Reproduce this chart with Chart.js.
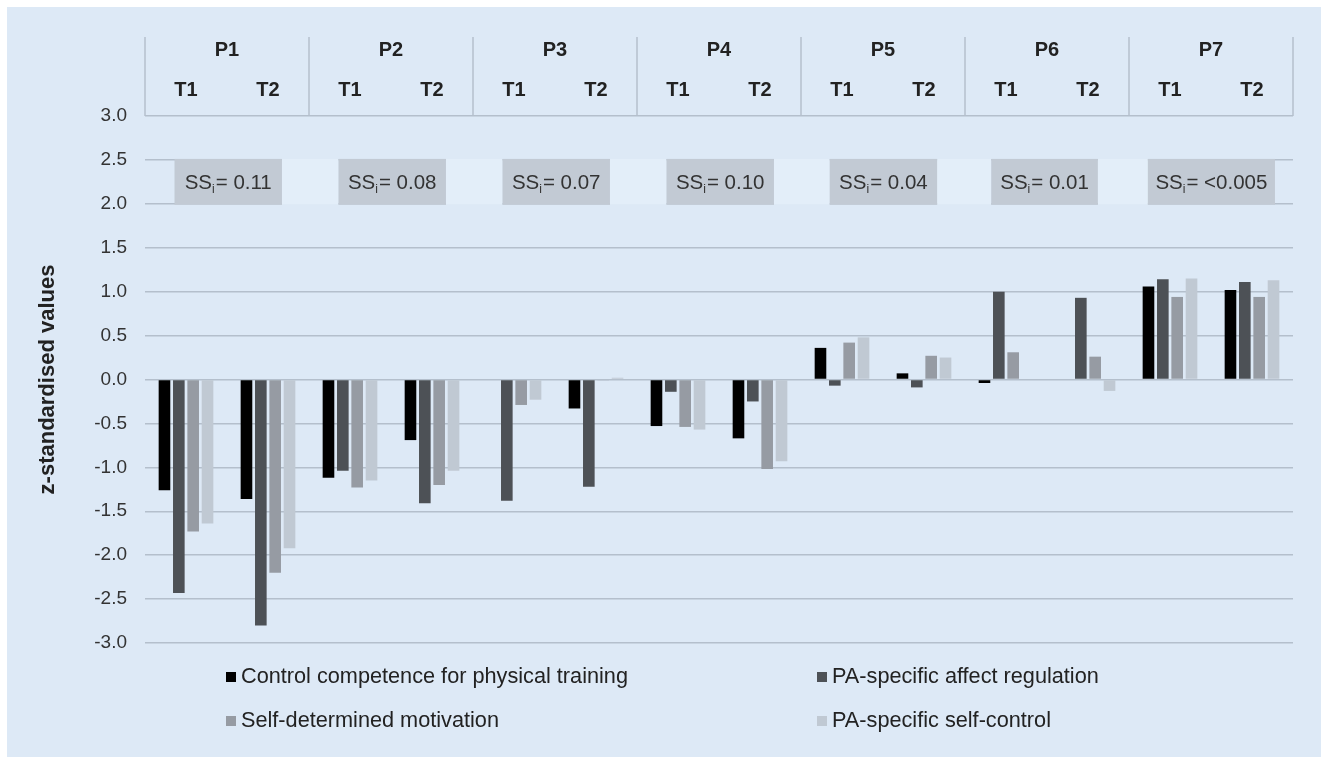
<!DOCTYPE html>
<html>
<head>
<meta charset="utf-8">
<script src="https://cdn.jsdelivr.net/npm/chart.js@4"></script>
<style>
  html, body { margin: 0; padding: 0; background: #fff; }
  body { width: 1321px; height: 757px; position: relative; overflow: hidden; font-family: "Liberation Sans", Arial, sans-serif; }
  #panel { position: absolute; left: 7px; top: 7px; width: 1314px; height: 750px; background: #dde9f6; }
  .lg { position: absolute; font-size: 21.7px; color: #222; line-height: 24px; white-space: nowrap; }
  .lg span { display: inline-block; width: 10px; height: 10px; margin-right: 5px; vertical-align: 1px; }
</style>
</head>
<body>
<div id="panel"><canvas id="chart"></canvas></div>
<div id="legend"></div>
<script>
// categories
const timeLabels = ['T1', 'T2', 'T1', 'T2', 'T1', 'T2', 'T1', 'T2', 'T1', 'T2', 'T1', 'T2', 'T1', 'T2'];
const groupLabels = ['P1', 'P2', 'P3', 'P4', 'P5', 'P6', 'P7'];
const ssValues = ['0.11', '0.08', '0.07', '0.10', '0.04', '0.01', '<0.005'];
const yTicks = [-3, -2.5, -2, -1.5, -1, -0.5, 0, 0.5, 1, 1.5, 2, 2.5, 3];

// series (z-standardised values)
const controlCompetence = [-1.26, -1.36, -1.12, -0.69, 0, -0.33, -0.53, -0.67, 0.36, 0.07, -0.04, 0, 1.06, 1.02];
const affectRegulation  = [-2.43, -2.80, -1.04, -1.41, -1.38, -1.22, -0.14, -0.25, -0.07, -0.09, 1.00, 0.93, 1.14, 1.11];
const motivation        = [-1.73, -2.20, -1.23, -1.20, -0.29, -0.01, -0.54, -1.02, 0.42, 0.27, 0.31, 0.26, 0.94, 0.94];
const selfControl       = [-1.64, -1.92, -1.15, -1.04, -0.23, 0.02, -0.57, -0.93, 0.48, 0.25, 0, -0.13, 1.15, 1.13];

const FONT = '"Liberation Sans", Arial, sans-serif';
const gridColor = '#b4bfcc';

// where the SS boxes sit, relative to the first category of each group
const boxSpan = [[-0.14, 1.17], [-0.14, 1.17], [-0.14, 1.17], [-0.14, 1.17], [-0.15, 1.16], [-0.18, 1.12], [-0.27, 1.28]];

const headerLines = {
  id: 'headerLines',
  afterDraw(chart) {
    const x = chart.scales.x, ctx = chart.ctx;
    ctx.save();
    ctx.strokeStyle = gridColor;
    ctx.lineWidth = 1.5;
    for (let g = 0; g <= groupLabels.length; g++) {
      const px = x.getPixelForValue(2 * g - 0.5);
      ctx.beginPath();
      ctx.moveTo(px, 30);
      ctx.lineTo(px, chart.chartArea.top);
      ctx.stroke();
    }
    ctx.restore();
  }
};

const ssBoxes = {
  id: 'ssBoxes',
  beforeDatasetsDraw(chart) {
    const x = chart.scales.x, y = chart.scales.y, ctx = chart.ctx;
    const yTop = y.getPixelForValue(2.5) - 1, yBot = y.getPixelForValue(2.0) + 1;
    const spans = boxSpan.map((s, g) => s.map(d => x.getPixelForValue(2 * g + d)));
    ctx.save();
    ctx.fillStyle = '#e3eef9';
    for (let g = 0; g < spans.length - 1; g++) {
      ctx.fillRect(spans[g][1], yTop, spans[g + 1][0] - spans[g][1], yBot - yTop);
    }
    spans.forEach(([a, b], g) => {
      ctx.fillStyle = '#c2cad4';
      ctx.fillRect(a, yTop, b - a, yBot - yTop);
      const big = '20.5px ' + FONT, small = '12px ' + FONT;
      const rest = '= ' + ssValues[g];
      ctx.font = big;
      const w1 = ctx.measureText('SS').width, w3 = ctx.measureText(rest).width;
      ctx.font = small;
      const w2 = ctx.measureText('i').width + 1;
      let cx = (a + b) / 2 - (w1 + w2 + w3) / 2;
      const base = (yTop + yBot) / 2 + 7;
      ctx.fillStyle = '#333';
      ctx.textBaseline = 'alphabetic';
      ctx.textAlign = 'left';
      ctx.font = big;
      ctx.fillText('SS', cx, base);
      ctx.font = small;
      ctx.fillText('i', cx + w1, base + 4);
      ctx.font = big;
      ctx.fillText(rest, cx + w1 + w2, base);
    });
    ctx.restore();
  }
};

const series = [
  { label: 'Control competence for physical training', data: controlCompetence, color: '#000000' },
  { label: 'PA-specific affect regulation', data: affectRegulation, color: '#4d5156' },
  { label: 'Self-determined motivation', data: motivation, color: '#969ba3' },
  { label: 'PA-specific self-control', data: selfControl, color: '#c0c9d3' }
];

const chart = new Chart(document.getElementById('chart'), {
  type: 'bar',
  data: {
    labels: timeLabels,
    datasets: series.map(s => ({
      label: s.label,
      data: s.data,
      backgroundColor: s.color,
      borderWidth: 0,
      xAxisID: 'x',
      categoryPercentage: 0.7,
      barPercentage: 0.81
    }))
  },
  options: {
    responsive: true,
    maintainAspectRatio: false,
    animation: false,
    layout: { padding: { left: 0, right: 28, top: 23, bottom: 114 } },
    plugins: { legend: { display: false }, tooltip: { enabled: false } },
    scales: {
      x: {
        position: 'top',
        grid: { display: false, drawTicks: false },
        border: { display: false },
        ticks: { color: '#222', font: { family: FONT, size: 20, weight: 'bold' }, padding: 14, autoSkip: false, maxRotation: 0 },
        afterFit(scale) { scale.height = 46; }
      },
      groups: {
        type: 'category',
        labels: groupLabels,
        position: 'top',
        offset: true,
        weight: 1,
        grid: { display: false, drawTicks: false },
        border: { display: false },
        ticks: { color: '#222', font: { family: FONT, size: 20, weight: 'bold' }, padding: 8, autoSkip: false, maxRotation: 0 },
        afterFit(scale) { scale.height = 40; }
      },
      y: {
        min: -3,
        max: 3,
        afterBuildTicks(scale) { scale.ticks = yTicks.map(v => ({ value: v })); },
        grid: { color: gridColor, lineWidth: 1.5, drawTicks: false },
        border: { display: false },
        ticks: {
          color: '#333',
          padding: 18,
          font: { family: FONT, size: 19 },
          callback: v => Number(v).toFixed(1)
        },
        title: {
          display: true,
          text: 'z-standardised values',
          color: '#222',
          font: { family: FONT, size: 22, weight: 'bold' },
          padding: { top: 28, bottom: 0 }
        },
        afterFit(scale) { scale.width = 138; }
      }
    }
  },
  plugins: [ssBoxes, headerLines]
});

// legend laid out as in the figure: two columns, two rows
const legendPos = [[226, 664], [817, 664], [226, 708], [817, 708]];
const legend = document.getElementById('legend');
series.forEach((s, i) => {
  const d = document.createElement('div');
  d.className = 'lg';
  d.style.left = legendPos[i][0] + 'px';
  d.style.top = legendPos[i][1] + 'px';
  d.innerHTML = '<span style="background:' + s.color + '"></span>' + s.label;
  legend.appendChild(d);
});
</script>
</body>
</html>
